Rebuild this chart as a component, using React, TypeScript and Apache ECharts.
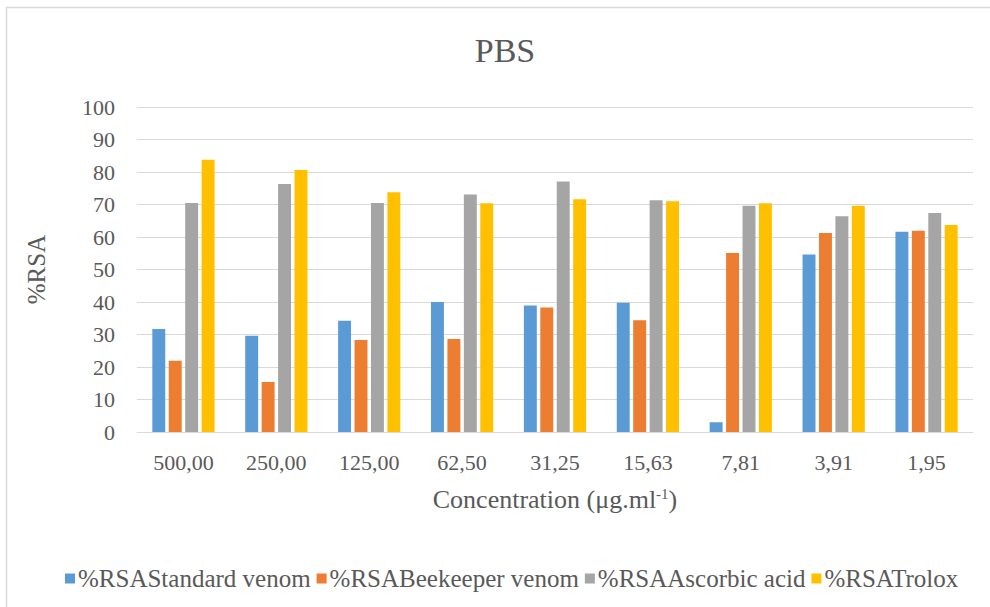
import React, { useEffect, useRef } from "react";
import * as echarts from "echarts";

const categories = ["500,00", "250,00", "125,00", "62,50", "31,25", "15,63", "7,81", "3,91", "1,95"];
const standardVenom = [31.7, 29.6, 34.2, 40.0, 38.9, 39.8, 3.0, 54.6, 61.6];
const beekeeperVenom = [21.9, 15.4, 28.3, 28.6, 38.3, 34.4, 55.1, 61.2, 61.9];
const ascorbicAcid = [70.5, 76.3, 70.5, 73.1, 77.1, 71.3, 69.6, 66.4, 67.4];
const trolox = [83.8, 80.6, 73.8, 70.4, 71.6, 71.0, 70.4, 69.6, 63.7];
const seriesNames = ["%RSAStandard venom", "%RSABeekeeper venom", "%RSAAscorbic acid", "%RSATrolox"];
const colors = ["#5B9BD5", "#ED7D31", "#A5A5A5", "#FFC000"];
const yTicks = { min: 0, max: 100, interval: 10 };

const FONT = "Liberation Serif";
const TEXT = "#595959";

export default function App() {
  const ref = useRef<HTMLDivElement>(null);
  useEffect(() => {
    if (!ref.current) return;
    const chart = echarts.init(ref.current, undefined, { renderer: "svg" });
    const data = [standardVenom, beekeeperVenom, ascorbicAcid, trolox];
    chart.setOption({
      animation: false,
      backgroundColor: "#ffffff",
      textStyle: { fontFamily: FONT, color: TEXT },
      graphic: [
        {
          type: "rect",
          shape: { x: 6.5, y: 7.5, width: 1000, height: 700 },
          style: { fill: "none", stroke: "#D9D9D9", lineWidth: 1.5 },
          silent: true,
        },
        {
          type: "text",
          x: 505,
          y: 50,
          style: {
            text: "PBS",
            fontFamily: FONT,
            fontSize: 34,
            fill: TEXT,
            textAlign: "center",
            textVerticalAlign: "middle",
          },
        },
      ],
      legend: {
        data: seriesNames,
        left: 60,
        top: 561,
        icon: "rect",
        itemWidth: 10,
        itemHeight: 10,
        itemGap: 6,
        textStyle: { fontFamily: FONT, color: TEXT, fontSize: 25, padding: [0, 0, 0, -2] },
      },
      grid: { left: 137, right: 17, top: 107, bottom: 175 },
      xAxis: {
        type: "category",
        data: categories,
        axisLine: { lineStyle: { color: "#D9D9D9", width: 1 } },
        axisTick: { show: false },
        axisLabel: { interval: 0, fontFamily: FONT, color: TEXT, fontSize: 22, margin: 19 },
        name: "Concentration (μg.ml{sup|-1})",
        nameLocation: "middle",
        nameGap: 54,
        nameTextStyle: {
          fontFamily: FONT,
          color: TEXT,
          fontSize: 26,
          rich: {
            sup: { fontFamily: FONT, color: TEXT, fontSize: 15, verticalAlign: "top", padding: [0, 0, 10, 0] },
          },
        },
      },
      yAxis: {
        type: "value",
        min: yTicks.min,
        max: yTicks.max,
        interval: yTicks.interval,
        axisLine: { show: false },
        axisTick: { show: false },
        splitLine: { lineStyle: { color: "#D9D9D9", width: 1 } },
        axisLabel: { fontFamily: FONT, color: TEXT, fontSize: 22, margin: 22 },
        name: "%RSA",
        nameLocation: "middle",
        nameGap: 88,
        nameTextStyle: { fontFamily: FONT, color: TEXT, fontSize: 25 },
      },
      series: seriesNames.map((name, i) => ({
        name,
        type: "bar",
        data: data[i],
        itemStyle: { color: colors[i] },
        barGap: "27%",
        barCategoryGap: "33%",
      })),
    });
    return () => chart.dispose();
  }, []);
  return <div ref={ref} style={{ position: "fixed", left: 0, top: 0, width: 990, height: 607 }} />;
}
